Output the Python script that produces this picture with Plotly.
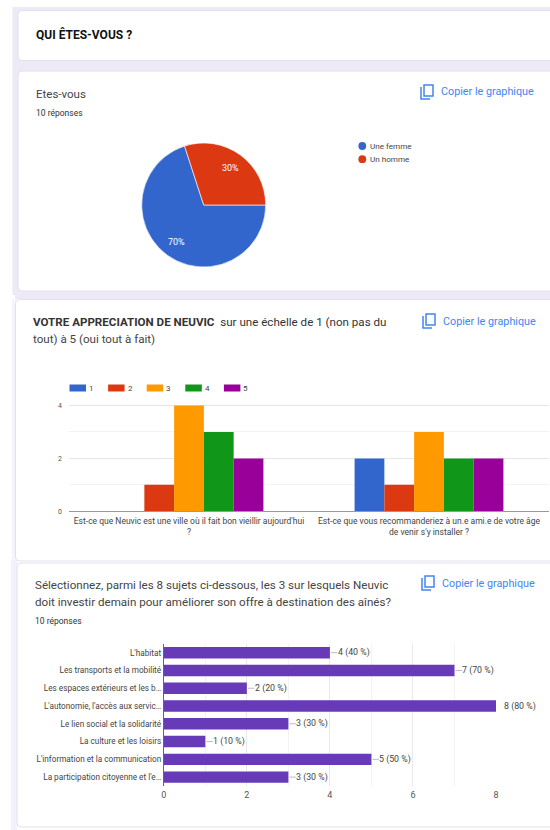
import math
import plotly.graph_objects as go

W, H = 550, 830

# --- data ---
pie_labels = ["Une femme", "Un homme"]
pie_values = [70, 30]
pie_colors = ["#3366cc", "#dc3912"]

scale_names = ["1", "2", "3", "4", "5"]
scale_colors = ["#3366cc", "#dc3912", "#ff9900", "#109618", "#990099"]
scale_categories = [
    "Est-ce que Neuvic est une ville où il fait bon vieillir aujourd'hui<br>?",
    "Est-ce que vous recommanderiez à un.e ami.e de votre âge<br>de venir s'y installer ?",
]
scale_values = [[0, 2], [1, 1], [4, 3], [3, 2], [2, 2]]

topic_labels = [
    "L'habitat", "Les transports et la mobilité", "Les espaces extérieurs et les b…",
    "L'autonomie, l'accès aux servic…", "Le lien social et la solidarité",
    "La culture et les loisirs", "L'information et la communication",
    "La participation citoyenne et l'e…",
]
topic_values = [4, 7, 2, 8, 3, 1, 5, 3]
topic_text = ["4 (40 %)", "7 (70 %)", "2 (20 %)", "8 (80 %)", "3 (30 %)", "1 (10 %)", "5 (50 %)", "3 (30 %)"]

# --- pixel helpers ---
def px(x): return x / W
def py(y): return 1 - y / H

PAGE = "#ede9f7"
BLUE = "#4285f4"
FONT = "Roboto, Arial, sans-serif"
shapes, annotations = [], []

def rect(x0, y0, x1, y1, fill):
    shapes.append(dict(type="rect", xref="paper", yref="paper", x0=px(x0), x1=px(x1), y0=py(y0), y1=py(y1),
                       fillcolor=fill, line_width=0, layer="below"))

def card(x0, y0, x1, y1, r=4):
    p = (f"M{px(x0+r)},{py(y0)} L{px(x1)},{py(y0)} L{px(x1)},{py(y1)} L{px(x0+r)},{py(y1)} "
         f"Q{px(x0)},{py(y1)} {px(x0)},{py(y1-r)} L{px(x0)},{py(y0+r)} Q{px(x0)},{py(y0)} {px(x0+r)},{py(y0)} Z")
    shapes.append(dict(type="path", xref="paper", yref="paper", path=p, fillcolor="white",
                       line=dict(color="#e2e0ea", width=1), layer="below"))

def text(x, y, s, size, color="#333333", anchor="left"):
    shift = -2 if anchor == "left" else 0
    annotations.append(dict(xref="paper", yref="paper", x=px(x), y=py(y), text=s, showarrow=False,
                            xanchor=anchor, yanchor="middle", align="left", xshift=shift,
                            font=dict(size=size, color=color, family=FONT)))

def copy_link(x, y):
    shapes.append(dict(type="path", xref="paper", yref="paper",
                       path=f"M{px(x+3)},{py(y)} L{px(x+12)},{py(y)} L{px(x+12)},{py(y+11)} L{px(x+3)},{py(y+11)} Z",
                       line=dict(color=BLUE, width=1.5), fillcolor="rgba(0,0,0,0)"))
    shapes.append(dict(type="path", xref="paper", yref="paper",
                       path=f"M{px(x)},{py(y+2)} L{px(x)},{py(y+14)} L{px(x+9)},{py(y+14)}",
                       line=dict(color=BLUE, width=1.5), fillcolor="rgba(0,0,0,0)"))
    text(x + 20, y + 7, "Copier le graphique", 10.8, BLUE)

# backgrounds
rect(12.5, 7, 550, 295, PAGE)
rect(15, 295, 550, 299, PAGE)
rect(12, 299, 15.5, 560, "#f6f4fb")
rect(11, 560, 17, 830, "#f3f1fa")
card(18, 10.5, 552, 60.5)
card(18, 71, 552, 291)
card(15.5, 299.5, 552, 561)
card(17, 563, 552, 827)

# static text
text(35.5, 35, "<b>QUI ÊTES-VOUS ?</b>", 12, "#111111")
text(35.5, 94, "Etes-vous", 11.5, "#444444")
text(35.5, 113, "10 réponses", 8.5, "#333333")
copy_link(421, 85)
text(33, 322, "<b>VOTRE APPRECIATION DE NEUVIC</b>  sur une échelle de 1 (non pas du", 11.6, "#333333")
text(33, 339, "tout) à 5 (oui tout à fait)", 11.6, "#444444")
copy_link(423, 314)
text(35, 585, "Sélectionnez, parmi les 8 sujets ci-dessous, les 3 sur lesquels Neuvic", 11.6, "#444444")
text(35, 602, "doit investir demain pour améliorer son offre à destination des aînés?", 11.6, "#444444")
text(35, 621, "10 réponses", 8.5, "#333333")
copy_link(422, 576)

# legends in the Google Forms style
for i, (lab, col) in enumerate(zip(pie_labels, pie_colors)):
    y = 146 + i * 13.2
    shapes.append(dict(type="circle", xref="paper", yref="paper", x0=px(358.4), x1=px(366.2), y0=py(y - 3.9), y1=py(y + 3.9),
                       fillcolor=col, line_width=0))
    text(370, y, lab, 8.1, "#444444")

for i, (name, col) in enumerate(zip(scale_names, scale_colors)):
    x = 69.5 + i * 38.6
    rect(x, 384.5, x + 16.5, 391.5, col)
    text(x + 19.5, 388.2, name, 8, "#444444")

# pie percentage labels, placed along each slice's mid-angle
PIE_CX, PIE_CY, PIE_R = 203.7, 205, 62
start = 90.0
for v in pie_values:
    sweep = 360 * v / sum(pie_values)
    mid = math.radians(start + sweep / 2)
    text(PIE_CX + 0.74 * PIE_R * math.sin(mid), PIE_CY - 0.74 * PIE_R * math.cos(mid), f"{v}%", 9, "white", "center")
    start += sweep

fig = go.Figure()

fig.add_trace(go.Pie(
    labels=pie_labels, values=pie_values, marker=dict(colors=pie_colors, line=dict(color="white", width=0.6)),
    sort=False, direction="clockwise", rotation=90, textinfo="none", showlegend=False,
    domain=dict(x=[px(PIE_CX - PIE_R), px(PIE_CX + PIE_R)], y=[py(PIE_CY + PIE_R), py(PIE_CY - PIE_R)]),
))

for name, col, vals in zip(scale_names, scale_colors, scale_values):
    fig.add_trace(go.Bar(x=scale_categories, y=vals, name=name, marker=dict(color=col, line_width=0),
                         xaxis="x", yaxis="y", showlegend=False))

fig.add_trace(go.Bar(x=topic_values, y=topic_labels, orientation="h", marker=dict(color="#673ab7", line_width=0),
                     xaxis="x2", yaxis="y2", showlegend=False, width=0.64))

# value labels with short leader lines
for lab, v, t in zip(topic_labels, topic_values, topic_text):
    annotations.append(dict(xref="x2", yref="y2", x=v, y=lab, text=t, showarrow=False, xanchor="left",
                            xshift=6, font=dict(size=8.8, color="#444444", family=FONT)))
    if v < max(topic_values):
        shapes.append(dict(type="line", xref="x2", yref="y2", xsizemode="pixel", xanchor=v, x0=1, x1=7.5,
                           y0=lab, y1=lab, line=dict(color="#bbbbbb", width=1)))

fig.update_layout(
    width=W, height=H, margin=dict(l=0, r=0, t=0, b=0, autoexpand=False),
    paper_bgcolor="white", plot_bgcolor="white", barmode="group", bargap=0.38, bargroupgap=0,
    font=dict(family=FONT, color="#444444"), showlegend=False,
    shapes=shapes, annotations=annotations,
    xaxis=dict(domain=[px(69), px(549)], showgrid=False, showline=True, linecolor="#999999", linewidth=1,
               ticks="", tickfont=dict(size=8.5, color="#444444"), ticklabelstandoff=1, automargin=False, fixedrange=True),
    yaxis=dict(domain=[py(511.3), py(379)], range=[0, 5], dtick=2, tick0=0, gridcolor="#e6e6e6", zeroline=False,
               minor=dict(dtick=1, showgrid=True, gridcolor="#f3f3f3"), tickfont=dict(size=7, color="#555555"),
               ticklabelstandoff=6, automargin=False, fixedrange=True),
    xaxis2=dict(domain=[px(163.8), px(496)], range=[0, 8], dtick=2, tick0=0, anchor="y2", gridcolor="#e9e9e9", zeroline=False,
                minor=dict(dtick=1, showgrid=True, gridcolor="#f3f3f3"), tickfont=dict(size=9, color="#555555"),
                ticklabelstandoff=2, automargin=False, fixedrange=True),
    yaxis2=dict(domain=[py(786), py(643.8)], autorange="reversed", anchor="x2", showline=True, linecolor="#666666", linewidth=1,
                tickfont=dict(size=8.2, color="#444444"), ticklabelstandoff=0, automargin=False, fixedrange=True),
)

fig.write_html("out.html", config={"displayModeBar": False},
               post_script="document.body.style.margin='0';document.documentElement.style.overflow='hidden';")
